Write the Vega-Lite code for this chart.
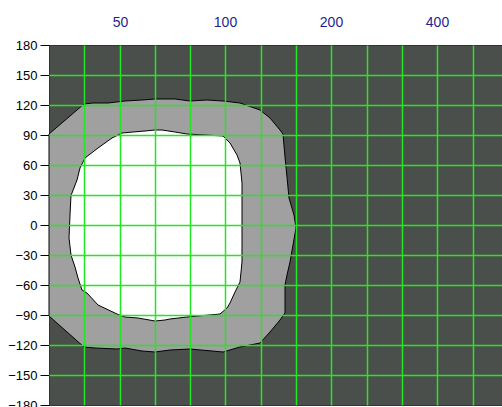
{
  "$schema": "https://vega.github.io/schema/vega-lite/v6.json",
  "width": 453,
  "height": 360,
  "autosize": "none",
  "padding": {"left": 49, "top": 45, "right": 0, "bottom": 2},
  "background": "white",
  "config": {
    "view": {"fill": "#4b4f4b", "stroke": "#333333", "strokeWidth": 1},
    "axis": {"labelFont": "Liberation Sans", "gridColor": "#22e822", "gridOpacity": 1, "gridWidth": 1.5}
  },
  "datasets": {
    "outer": [
      {"i": 0, "f": 31.5, "a": 91},
      {"i": 1, "f": 39.7, "a": 121},
      {"i": 2, "f": 42.1, "a": 121.7},
      {"i": 3, "f": 46.4, "a": 122.3},
      {"i": 4, "f": 51.8, "a": 124},
      {"i": 5, "f": 57.8, "a": 125},
      {"i": 6, "f": 63.0, "a": 125.7},
      {"i": 7, "f": 71.9, "a": 125.7},
      {"i": 8, "f": 79.3, "a": 124.3},
      {"i": 9, "f": 88.4, "a": 125},
      {"i": 10, "f": 98.6, "a": 124.3},
      {"i": 11, "f": 110.0, "a": 121.7},
      {"i": 12, "f": 125.3, "a": 115},
      {"i": 13, "f": 133.8, "a": 106.7},
      {"i": 14, "f": 142.9, "a": 95},
      {"i": 15, "f": 146.0, "a": 91},
      {"i": 16, "f": 147.6, "a": 68.3},
      {"i": 17, "f": 149.3, "a": 48.3},
      {"i": 18, "f": 152.0, "a": 27},
      {"i": 19, "f": 156.6, "a": 10},
      {"i": 20, "f": 158.6, "a": -3.3},
      {"i": 21, "f": 155.9, "a": -20},
      {"i": 22, "f": 152.5, "a": -36.7},
      {"i": 23, "f": 149.3, "a": -50},
      {"i": 24, "f": 147.6, "a": -60},
      {"i": 25, "f": 147.6, "a": -88.3},
      {"i": 26, "f": 142.9, "a": -95},
      {"i": 27, "f": 133.8, "a": -106.7},
      {"i": 28, "f": 125.3, "a": -118.3},
      {"i": 29, "f": 110.0, "a": -121.7},
      {"i": 30, "f": 98.6, "a": -127.3},
      {"i": 31, "f": 79.3, "a": -124.3},
      {"i": 32, "f": 69.5, "a": -125},
      {"i": 33, "f": 63.0, "a": -127.3},
      {"i": 34, "f": 57.8, "a": -126},
      {"i": 35, "f": 51.8, "a": -123.3},
      {"i": 36, "f": 49.1, "a": -124},
      {"i": 37, "f": 42.6, "a": -122.7},
      {"i": 38, "f": 39.7, "a": -121.7},
      {"i": 39, "f": 31.5, "a": -90.7},
      {"i": 40, "f": 31.5, "a": 91}
    ],
    "inner": [
      {"i": 0, "f": 50.7, "a": 91.7},
      {"i": 1, "f": 54.7, "a": 93.3},
      {"i": 2, "f": 59.0, "a": 94.3},
      {"i": 3, "f": 63.0, "a": 95},
      {"i": 4, "f": 65.9, "a": 95},
      {"i": 5, "f": 71.9, "a": 93.3},
      {"i": 6, "f": 77.6, "a": 90.7},
      {"i": 7, "f": 98.6, "a": 89},
      {"i": 8, "f": 103.0, "a": 81.7},
      {"i": 9, "f": 107.6, "a": 70},
      {"i": 10, "f": 110.0, "a": 61.7},
      {"i": 11, "f": 111.2, "a": 41.7},
      {"i": 12, "f": 111.2, "a": -36.7},
      {"i": 13, "f": 110.0, "a": -56.7},
      {"i": 14, "f": 106.4, "a": -66.7},
      {"i": 15, "f": 103.0, "a": -78.3},
      {"i": 16, "f": 100.8, "a": -83.3},
      {"i": 17, "f": 96.5, "a": -89.3},
      {"i": 18, "f": 77.6, "a": -91.7},
      {"i": 19, "f": 69.5, "a": -94},
      {"i": 20, "f": 67.3, "a": -95},
      {"i": 21, "f": 63.0, "a": -96},
      {"i": 22, "f": 56.5, "a": -93.3},
      {"i": 23, "f": 51.8, "a": -91.7},
      {"i": 24, "f": 49.1, "a": -89.3},
      {"i": 25, "f": 43.5, "a": -80},
      {"i": 26, "f": 40.3, "a": -68.3},
      {"i": 27, "f": 39.0, "a": -65},
      {"i": 28, "f": 38.2, "a": -53.3},
      {"i": 29, "f": 37.3, "a": -41.7},
      {"i": 30, "f": 36.4, "a": -30},
      {"i": 31, "f": 35.9, "a": -13.3},
      {"i": 32, "f": 36.1, "a": 10},
      {"i": 33, "f": 36.4, "a": 30},
      {"i": 34, "f": 36.5, "a": 31.7},
      {"i": 35, "f": 37.8, "a": 45},
      {"i": 36, "f": 38.6, "a": 56.7},
      {"i": 37, "f": 39.9, "a": 66.7},
      {"i": 38, "f": 43.5, "a": 76.7},
      {"i": 39, "f": 47.5, "a": 86.7},
      {"i": 40, "f": 50.7, "a": 91.7}
    ]
  },
  "resolve": {"axis": {"x": "independent", "y": "independent"}},
  "layer": [
    {
      "data": {"name": "outer"},
      "mark": {"type": "line", "fill": "#a0a0a0", "stroke": "#000000", "strokeWidth": 1, "interpolate": "linear"},
      "encoding": {
        "x": {
          "field": "f",
          "type": "quantitative",
          "scale": {"type": "log", "domain": [31.498, 611], "nice": false, "zero": false, "round": true},
          "axis": {
            "orient": "top",
            "values": [50, 100, 200, 400],
            "grid": false,
            "ticks": false,
            "tickSize": 0,
            "domain": false,
            "labelExpr": "'' + datum.value",
            "labelColor": "#1f1f8f",
            "labelFontSize": 14,
            "labelPadding": 16,
            "labelOverlap": false,
            "labelBound": false,
            "labelFlush": false,
            "title": null
          }
        },
        "y": {
          "field": "a",
          "type": "quantitative",
          "scale": {"domain": [-180, 180], "nice": false, "zero": false, "round": true},
          "axis": {
            "orient": "left",
            "values": [-180, -150, -120, -90, -60, -30, 0, 30, 60, 90, 120, 150, 180],
            "grid": false,
            "tickColor": "#000000",
            "tickSize": 9,
            "tickWidth": 1,
            "labelPadding": 3,
            "labelColor": "#000000",
            "labelFontSize": 13,
            "domain": false,
            "labelOverlap": false,
            "labelBound": false,
            "labelFlush": false,
            "title": null
          }
        },
        "order": {"field": "i", "type": "quantitative"}
      }
    },
    {
      "data": {"name": "inner"},
      "mark": {"type": "line", "fill": "#ffffff", "stroke": "#000000", "strokeWidth": 1, "interpolate": "linear"},
      "encoding": {
        "x": {
          "field": "f",
          "type": "quantitative",
          "axis": {
            "orient": "top",
            "values": [39.685, 50, 62.996, 79.37, 100, 125.99, 158.74, 200, 251.98, 317.48, 400, 503.97],
            "grid": true,
            "gridColor": "#22e822",
            "gridWidth": 1.5,
            "ticks": false,
            "labels": false,
            "domain": false,
            "title": null,
            "zindex": 1
          }
        },
        "y": {
          "field": "a",
          "type": "quantitative",
          "axis": {
            "orient": "left",
            "values": [-150, -120, -90, -60, -30, 0, 30, 60, 90, 120, 150],
            "grid": true,
            "gridColor": "#22e822",
            "gridWidth": 1.5,
            "ticks": false,
            "labels": false,
            "domain": false,
            "title": null,
            "zindex": 1
          }
        },
        "order": {"field": "i", "type": "quantitative"}
      }
    }
  ]
}
